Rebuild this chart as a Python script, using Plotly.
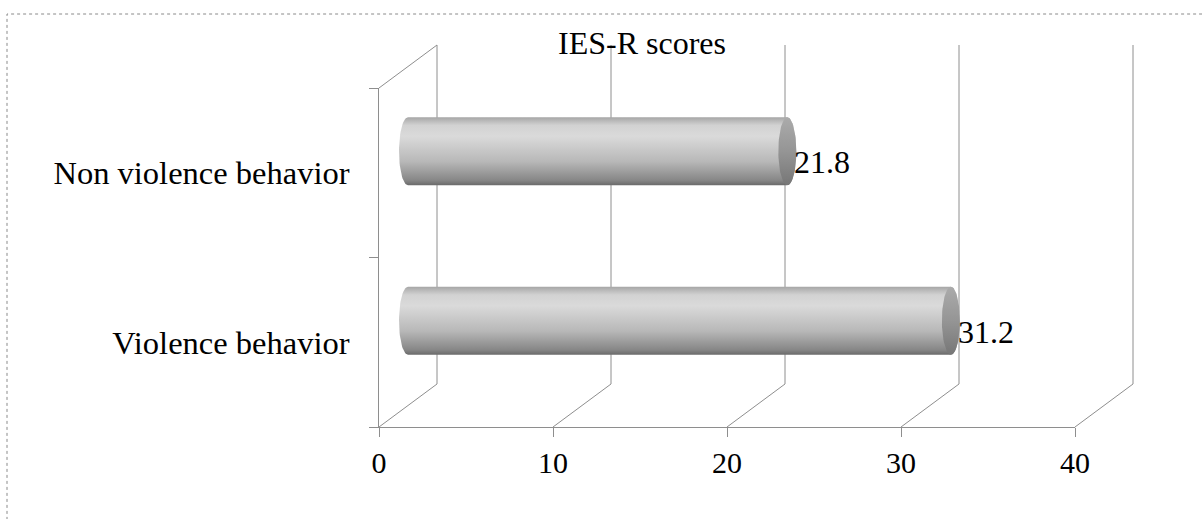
import numpy as np
import plotly.graph_objects as go

# ---- data -------------------------------------------------------------
categories = ["Violence behavior", "Non violence behavior"]
scores = [31.2, 21.8]
tick_values = [0, 10, 20, 30, 40]
title_text = "IES-R scores"

# ---- page geometry (pixels) --------------------------------------------
W, H = 1202, 519
FX0, FX1 = 379, 1075          # front floor: value 0 .. 40
FY_TOP, FY_BOT = 88, 427      # front left edge: top .. floor
DEPTH_X, DEPTH_Y = 58, 43     # front -> back wall shift (right, up)
BAR_HALF_H = 34               # cylinder radius, vertical
CAP_RX = 9                    # cylinder end ellipse, horizontal radius
VMIN, VMAX = tick_values[0], tick_values[-1]

FONT = "Liberation Serif"
GRID = "#8e8e8e"

ncat = len(categories)
px_per_val = (FX1 - FX0) / (VMAX - VMIN)
px_per_cat = (FY_BOT - FY_TOP) / ncat

# overlay axes spanning the whole page with the same scale as the front plane
x2_range = [VMIN - FX0 / px_per_val, VMIN + (W - FX0) / px_per_val]
y2_range = [-0.5 - (H - FY_BOT) / px_per_cat, -0.5 + FY_BOT / px_per_cat]
dxv = DEPTH_X / px_per_val
dyc = DEPTH_Y / px_per_cat
r_c = BAR_HALF_H / px_per_cat
rx_v = CAP_RX / px_per_val

fig = go.Figure()

# invisible trace so the front axes (categories / values) exist
fig.add_trace(go.Scatter(x=scores, y=categories, mode="markers",
                         marker=dict(opacity=0), hoverinfo="skip",
                         showlegend=False, xaxis="x", yaxis="y"))

# ---- back wall, floor and side wall lines -----------------------------
wx, wy = [], []
top_c = ncat - 0.5
for v in tick_values:
    # back wall vertical gridline
    wx += [v + dxv, v + dxv, None]
    wy += [-0.5 + dyc, top_c + dyc, None]
    # floor diagonal
    wx += [v, v + dxv, None]
    wy += [-0.5, -0.5 + dyc, None]
# side wall top edge
wx += [VMIN, VMIN + dxv, None]
wy += [top_c, top_c + dyc, None]
fig.add_trace(go.Scatter(x=wx, y=wy, mode="lines",
                         line=dict(color=GRID, width=1),
                         hoverinfo="skip", showlegend=False,
                         xaxis="x2", yaxis="y2"))

# ---- cylinders ----------------------------------------------------------
body_scale = [[0.0, "#6a6a6a"], [0.07, "#868686"], [0.35, "#b8b8b8"],
              [0.72, "#dadada"], [0.88, "#d2d2d2"], [1.0, "#a6a6a6"]]
cap_scale = [[0.0, "#767676"], [0.5, "#959595"], [1.0, "#ababab"]]

t_left = np.linspace(np.pi / 2, 3 * np.pi / 2, 40)
t_right = np.linspace(-np.pi / 2, np.pi / 2, 40)
t_full = np.linspace(0, 2 * np.pi, 80)

for i, val in enumerate(scores):
    c = i + dyc / 2
    x0 = VMIN + dxv / 2
    x1 = val + dxv / 2
    bx = np.concatenate([x0 + rx_v * np.cos(t_left), x1 + rx_v * np.cos(t_right)])
    by = np.concatenate([c + r_c * np.sin(t_left), c + r_c * np.sin(t_right)])
    fig.add_trace(go.Scatter(
        x=bx, y=by, mode="lines", fill="toself",
        line=dict(width=0, color="rgba(0,0,0,0)"),
        fillgradient=dict(type="vertical", colorscale=body_scale,
                          start=c - r_c, stop=c + r_c),
        hoverinfo="skip", showlegend=False, xaxis="x2", yaxis="y2"))
    fig.add_trace(go.Scatter(
        x=x1 + rx_v * np.cos(t_full), y=c + r_c * np.sin(t_full),
        mode="lines", fill="toself",
        line=dict(width=0, color="rgba(0,0,0,0)"),
        fillgradient=dict(type="vertical", colorscale=cap_scale,
                          start=c - r_c, stop=c + r_c),
        hoverinfo="skip", showlegend=False, xaxis="x2", yaxis="y2"))
    fig.add_annotation(x=x1, y=c, xref="x2", yref="y2", text=f"{val}",
                       showarrow=False, xanchor="left", yanchor="middle",
                       xshift=5, yshift=-11,
                       font=dict(family=FONT, size=32, color="black"))

# ---- outer frame ------------------------------------------------------
fig.add_shape(type="rect", xref="paper", yref="paper",
              x0=7 / W, x1=1.05, y0=-0.1, y1=1 - 14 / H,
              line=dict(color="#8a8a8a", width=1, dash="dot"))

fig.update_layout(
    width=W, height=H,
    margin=dict(l=0, r=0, t=0, b=0, pad=0, autoexpand=False),
    paper_bgcolor="white", plot_bgcolor="rgba(0,0,0,0)",
    title=dict(text=title_text, x=642 / W, xanchor="center",
               y=1 - 43 / H, yanchor="middle",
               font=dict(family=FONT, size=32, color="black")),
    xaxis=dict(domain=[FX0 / W, FX1 / W], range=[VMIN, VMAX],
               tickvals=tick_values, ticks="outside", ticklen=9,
               tickcolor=GRID, showline=True, linecolor=GRID, linewidth=1,
               showgrid=False, zeroline=False, anchor="y", automargin=False,
               tickfont=dict(family=FONT, size=30, color="black")),
    yaxis=dict(domain=[1 - FY_BOT / H, 1 - FY_TOP / H], type="category",
               categoryorder="array", categoryarray=categories,
               range=[-0.5, ncat - 0.5], tickson="boundaries",
               ticks="outside", ticklen=9, tickcolor=GRID,
               showline=True, linecolor=GRID, linewidth=1,
               showgrid=False, zeroline=False, anchor="x", automargin=False,
               ticklabelstandoff=22,
               tickfont=dict(family=FONT, size=32.5, color="black")),
    xaxis2=dict(domain=[0, 1], range=x2_range, visible=False, anchor="y2"),
    yaxis2=dict(domain=[0, 1], range=y2_range, visible=False, anchor="x2"),
    showlegend=False,
)

fig.write_html("out.html")
